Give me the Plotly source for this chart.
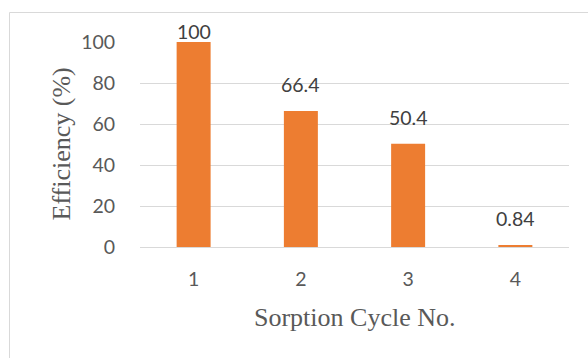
import plotly.graph_objects as go

# Sorption cycle efficiency data
cycles = ["1", "2", "3", "4"]
efficiency = [100, 66.4, 50.4, 0.84]
value_labels = ["100", "66.4", "50.4", "0.84"]
y_ticks = [0, 20, 40, 60, 80, 100]

BAR_COLOR = "#ED7D31"
TICK_COLOR = "#595959"
LABEL_COLOR = "#404040"
GRID_COLOR = "#D9D9D9"
SANS = "Lato"
SERIF = "Liberation Serif, Times New Roman, serif"

W, H = 588, 358
M_L, M_R, M_T, M_B = 140, 19, 42, 111
plot_w = W - M_L - M_R
plot_h = H - M_T - M_B

fig = go.Figure()
fig.add_trace(go.Bar(
    x=cycles,
    y=efficiency,
    marker=dict(color=BAR_COLOR, line=dict(width=0)),
    hoverinfo="x+y",
))

# value labels above each bar; the tallest one is kept close to its bar
for idx, (val, txt) in enumerate(zip(efficiency, value_labels)):
    fig.add_annotation(
        x=idx, y=val, text=txt, showarrow=False,
        xref="x", yref="y", yanchor="bottom",
        yshift=-3 if val >= 95 else 13,
        font=dict(family=SANS, size=19.5, color=LABEL_COLOR),
    )

# axis titles
fig.add_annotation(
    x=0.5, y=0, xref="paper", yref="paper",
    text="Sorption Cycle No.", showarrow=False,
    yanchor="middle", yshift=-70,
    font=dict(family=SERIF, size=26, color=TICK_COLOR),
)
fig.add_annotation(
    x=0, y=0.5, xref="paper", yref="paper",
    text="Efficiency (%)", showarrow=False, textangle=-90,
    xanchor="center", xshift=-79,
    font=dict(family=SERIF, size=26, color=TICK_COLOR),
)

# light chart-area frame
def px_to_paper_x(px):
    return (px - M_L) / plot_w

def px_to_paper_y(py):
    return (H - M_B - py) / plot_h

fig.add_shape(
    type="rect", xref="paper", yref="paper",
    x0=px_to_paper_x(9.5), x1=px_to_paper_x(620),
    y0=px_to_paper_y(400), y1=px_to_paper_y(12.5),
    line=dict(color=GRID_COLOR, width=1), fillcolor="rgba(0,0,0,0)",
    layer="below",
)

fig.update_layout(
    width=W, height=H,
    margin=dict(l=M_L, r=M_R, t=M_T, b=M_B, pad=0),
    paper_bgcolor="white", plot_bgcolor="white",
    showlegend=False,
    bargap=0.683,
    font=dict(family=SANS, color=TICK_COLOR),
)
fig.update_xaxes(
    type="category",
    range=[-0.5, len(cycles) - 0.5],
    showgrid=False, zeroline=False, showline=False,
    ticks="outside", ticklen=0, tickcolor="white",
    ticklabelstandoff=15,
    tickfont=dict(family=SANS, size=19.5, color=TICK_COLOR),
)
fig.update_yaxes(
    range=[0, 100],
    tickvals=y_ticks,
    ticktext=[str(t) for t in y_ticks],
    showgrid=True, gridcolor=GRID_COLOR, gridwidth=1,
    zeroline=True, zerolinecolor=GRID_COLOR, zerolinewidth=1,
    showline=False,
    ticks="outside", ticklen=0, tickcolor="white",
    ticklabelstandoff=20,
    tickfont=dict(family=SANS, size=19.5, color=TICK_COLOR),
)

fig.write_html("out.html")
